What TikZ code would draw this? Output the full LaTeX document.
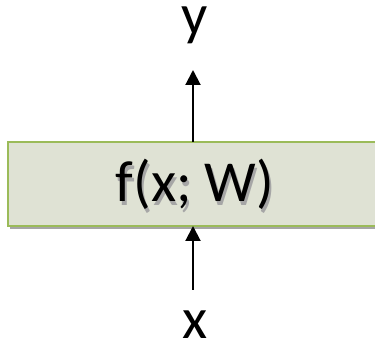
\documentclass[tikz,border=0pt]{standalone}
\usepackage{fontspec}
\setmainfont{Carlito}
\usetikzlibrary{arrows.meta}
\definecolor{boxfill}{HTML}{DFE2D4}
\definecolor{boxline}{HTML}{9BBB59}
\definecolor{shadowgray}{HTML}{A6A6A6}
\begin{document}
\begin{tikzpicture}[x=1pt, y=1pt, every node/.style={font=\fontsize{58}{60}\selectfont, inner sep=0pt}, arr/.style={line width=2pt, -{Triangle[width=15pt, length=15pt]}}]
			\useasboundingbox (0,0) rectangle (375,345);
			\clip (0,0) rectangle (375,345);
			\fill[shadowgray] (10,116) rectangle (390,200);
			\draw[boxline, fill=boxfill, line width=1.5pt] (8,119) rectangle (385,203);
			\node[text=shadowgray] at (197,157) {f(x; W)};
			\node (f) at (195,161) {f(x; W)};
			\coordinate (fs) at (193,119);
			\coordinate (fn) at (193,203);
			\node (x) at (195,20) {x};
			\node (y) at (195,320) {y};
			\coordinate (xt) at (193,55);
			\coordinate (yt) at (193,275);
			\draw[arr] (xt) -- (fs);
			\draw[arr] (fn) -- (yt);
		\end{tikzpicture}
\end{document}
